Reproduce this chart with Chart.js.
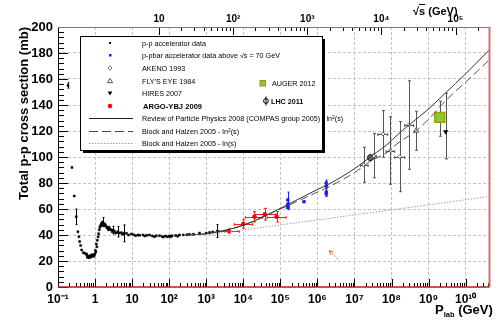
<!DOCTYPE html>
<html>
<head>
<meta charset="utf-8">
<script src="https://cdn.jsdelivr.net/npm/chart.js@4.4.1/dist/chart.umd.min.js"></script>
<style>
  body { margin: 0; background: #fff; }
  #wrap { position: relative; width: 498px; height: 322px; font-family: "Liberation Sans", Arial, sans-serif; }
  #chart { position: absolute; left: 0; top: 0; }
  .ttl { position: absolute; font-weight: bold; color: #000; white-space: nowrap; line-height: 1; }
  #leg { position: absolute; left: 0; top: 0; pointer-events: none; }
  #leg text { font-family: "Liberation Sans", Arial, sans-serif; font-size: 7.2px; fill: #000; }
</style>
</head>
<body>
<div id="wrap">
  <canvas id="chart" width="498" height="322"></canvas>
  <div class="ttl" style="left:413px; top:6px; font-size:11px;">√<span style="text-decoration:overline">s</span> (GeV)</div>
  <div class="ttl" style="left:435px; top:303px; font-size:13px;">P<span style="font-size:7.5px; position:relative; top:3px;">lab</span> (GeV)</div>
  <svg id="leg" width="498" height="322">
    <rect x="83" y="39" width="242" height="114" fill="#000"/>
    <rect x="80.5" y="36.5" width="242" height="114" fill="#fff" stroke="#000" stroke-width="1"/>
    <!-- p-p -->
    <rect x="109" y="42" width="2" height="2" fill="#000"/>
    <text x="142" y="45.5">p-p accelerator data</text>
    <!-- p-pbar -->
    <rect x="109" y="54" width="2.5" height="2.5" fill="#1a1aff"/>
    <text x="142" y="58">p-pbar accelerator data above √s = 70 GeV</text>
    <!-- AKENO -->
    <path d="M110 65.8 L112 68 L110 70.2 L108 68 Z" fill="#fff" stroke="#555" stroke-width="0.8"/>
    <text x="142" y="70.5">AKENO 1993</text>
    <!-- FLY'S EYE -->
    <path d="M110 78.3 L112.6 82.6 L107.4 82.6 Z" fill="#fff" stroke="#333" stroke-width="0.8"/>
    <text x="142" y="83.5">FLY'S EYE 1984</text>
    <!-- HIRES -->
    <path d="M107.6 91.6 L112.4 91.6 L110 95.6 Z" fill="#000"/>
    <text x="142" y="96">HIRES 2007</text>
    <!-- ARGO -->
    <circle cx="110" cy="106" r="2.3" fill="#ff0000"/>
    <text x="143" y="109" style="font-weight:bold; font-size:7.6px;">ARGO-YBJ 2009</text>
    <!-- lines -->
    <line x1="89" y1="118.5" x2="133" y2="118.5" stroke="#222" stroke-width="1"/>
    <text x="142" y="121">Review of Particle Physics 2008 (COMPAS group 2005) - ln<tspan dy="-2.5" style="font-size:5px">2</tspan><tspan dy="2.5">(s)</tspan></text>
    <line x1="89" y1="131.5" x2="133" y2="131.5" stroke="#444" stroke-width="1" stroke-dasharray="9,4"/>
    <text x="142" y="134">Block and Halzen 2005 - ln<tspan dy="-2.5" style="font-size:5px">2</tspan><tspan dy="2.5">(s)</tspan></text>
    <line x1="89" y1="143.5" x2="133" y2="143.5" stroke="#999" stroke-width="1" stroke-dasharray="1.5,1.5"/>
    <text x="142" y="146">Block and Halzen 2005 - ln(s)</text>
    <!-- AUGER -->
    <rect x="260" y="80.5" width="5.5" height="5.5" fill="#8dc63f" stroke="#9a9a00" stroke-width="1"/>
    <text x="272" y="85.8">AUGER 2012</text>
    <!-- LHC -->
    <line x1="266" y1="96.5" x2="266" y2="105.5" stroke="#000" stroke-width="1"/>
    <circle cx="266" cy="101" r="2.4" fill="none" stroke="#000" stroke-width="1"/>
    <text x="271" y="103.6" style="font-weight:bold;">LHC 2011</text>
  </svg>
</div>
<script>
// ---- axes ----
const X_MIN = 0.1, X_MAX = 4.4e10;          // P_lab (GeV)
const Y_MIN = 0, Y_MAX = 200;               // mb
const M_P = 0.938;                          // proton mass for the sqrt(s) axis
const xDecades = [0.1, 1, 10, 1e2, 1e3, 1e4, 1e5, 1e6, 1e7, 1e8, 1e9, 1e10];
const xTickLabels = ['10⁻¹', '1', '10', '10²', '10³', '10⁴', '10⁵', '10⁶', '10⁷', '10⁸', '10⁹', '10¹⁰'];
const sDecades = [10, 1e2, 1e3, 1e4, 1e5];
const sTickLabels = ['10', '10²', '10³', '10⁴', '10⁵'];
const yMajor = [0, 20, 40, 60, 80, 100, 120, 140, 160, 180, 200];
const yTickLabels = ['0', '20', '40', '60', '80', '100', '120', '140', '160', '180', '200'];

// ---- p-p accelerator data ----
const ppP = [0.186, 0.238, 0.274, 0.31, 0.345, 0.367, 0.383, 0.408, 0.434, 0.479, 0.532, 0.591, 0.6, 0.62, 0.653, 0.68, 0.7,
  0.725, 0.75, 0.78, 0.805, 0.83, 0.86, 0.889, 0.92, 0.95, 0.989, 1.02, 1.05, 1.08, 1.12, 1.15, 1.21, 1.25, 1.3, 1.35, 1.4,
  1.45, 1.5, 1.55, 1.6, 1.65, 1.7, 1.75, 1.83, 1.9, 2.04, 2.1, 2.25, 2.3, 2.4, 2.5, 2.7, 2.9, 3.07, 3.3, 3.6, 3.9, 4.18,
  4.5, 5.16, 5.5, 6.06, 7.03, 8, 9.58, 11, 12.5, 14.4, 16, 19.6, 22, 25, 29.5, 35, 40, 45, 55, 65, 70, 80, 90, 102,
  110, 120, 150, 170, 190, 240, 300, 350, 450, 660, 1000, 1230, 1500, 2000];
const ppSig = [155, 92, 70, 54, 42.5, 38.7, 35, 32, 28.5, 26.4, 26, 25.4, 24.5, 22.8, 23.3, 22.5, 23.6,
  24, 22.9, 23.5, 24.6, 23.8, 24.8, 24, 23.6, 24.4, 25.4, 28, 27, 33, 31, 36, 38.7, 41, 44, 46, 47,
  48, 49, 47.5, 50, 49.5, 48, 47, 48.5, 47.5, 46.4, 45.5, 45, 44, 46, 44.4, 44, 42.5, 43.8, 43, 41.5, 42, 42.5,
  41.5, 41.8, 40.5, 41.3, 41.3, 40, 40.8, 40.2, 39.5, 40, 39.8, 40, 39.3, 39.8, 40, 39.3, 38.6, 39.4, 39.5, 38.9, 38.4, 39.2, 38.6, 39.2,
  38.7, 39.4, 39.6, 39.1, 40, 40.1, 40.2, 40.5, 40.6, 41.5, 41.5, 42, 42.4, 43];
const ppErr = ppP.map(() => 0);
ppErr[0] = 2; ppErr[3] = 6; ppErr[40] = 3.5; ppErr[54] = 3; ppErr[58] = 4; ppErr[62] = 6.5; ppErr[96] = 5;

// ---- p-pbar accelerator data above sqrt(s) = 70 GeV ----
const pbarP = [1.59e5, 1.59e5, 1.59e5, 1.59e5, 4.3e5, 1.73e6, 1.73e6, 1.73e6, 1.73e6];
const pbarSig = [67, 63.5, 62, 61, 65.6, 80, 77.5, 73, 71.7];
const pbarErr = [6, 1.5, 1.5, 1.5, 0.7, 2.3, 2, 3, 2];

// ---- ARGO-YBJ 2009 ----
const argoP = [4030, 1.0e4, 2.0e4, 3.8e4, 7.9e4];
const argoSig = [43, 48.5, 54, 56, 54];
const argoErr = [1.5, 3.2, 4, 4.5, 4];
const argoPLo = [2260, 5700, 1.13e4, 1.98e4, 4.4e4];
const argoPHi = [7800, 1.75e4, 3.24e4, 7.7e4, 1.43e5];

// ---- AKENO 1993 ----
const akenoP = [1.79e7, 3.3e7, 5.9e7, 9.3e7, 1.66e8, 2.9e8];
const akenoSig = [94, 101, 117.7, 105, 100.3, 124.6];
const akenoErr = [13.5, 17, 18, 26, 27, 34];
const akenoPLo = [1.46e7, 2.9e7, 4.27e7, 7.1e7, 1.22e8, 2.27e8];
const akenoPHi = [2.33e7, 3.9e7, 7.9e7, 1.22e8, 2.27e8, 3.95e8];

// ---- FLY'S EYE 1984, HIRES 2007, AUGER 2012, LHC 2011 ----
const flyP = [4.6e8], flySig = [120.2], flyErr = [15];
const hiresP = [2.9e9], hiresSig = [119.5], hiresErr = [[21, 29.5]];
const augerP = [2.0e9], augerSig = [130.5], augerErr = [[14.5, 12.5]];
const lhcP = [2.7e7], lhcSig = [99.5], lhcErr = [3];

// ---- fits ----
const rppP = [300, 1e3, 1e4, 1e5, 1e6, 2e6, 1e7, 2.9e7, 1e8, 1.15e8, 1e9, 2.8e9, 1e10, 4.4e10];
const rppSig = [40, 41, 47.5, 60.5, 75, 79, 91, 100.8, 112.5, 114.4, 137, 149, 164, 182.5];
const bhP = [300, 1e3, 1e4, 1e5, 1e6, 1.73e6, 1e7, 2.6e7, 1e8, 1.15e8, 4.6e8, 1e9, 2.8e9, 1e10, 4.4e10];
const bhSig = [40, 41, 47.5, 60, 73, 76, 88, 96.5, 106, 108, 120.2, 129, 143, 157.6, 174.8];
const lnsP = [1e3, 8.3e7, 4.4e10];
const lnsSig = [40, 59, 69.6];

// arrow drawn on the plot (data coordinates)
const arrowTail = { x: 3.6e6, y: 21.3 };
const arrowHead = { x: 2.1e6, y: 27.9 };

const FONT = '"Liberation Sans", Arial, sans-serif';
const GRID = '#c4c4c4';
const pts = (xs, ys) => xs.map((x, i) => ({ x: x, y: ys[i] }));

function logTicks(decades, lo, hi) {
  const out = [];
  decades.forEach(d => {
    for (let k = 1; k <= 9; k++) {
      const v = d * k;
      if (v >= lo * 0.999 && v <= hi * 1.001) out.push({ value: v, major: k === 1 });
    }
  });
  return out;
}

// error bars through the chart's scales
const errorBars = {
  id: 'errorBars',
  beforeDatasetsDraw(chart) {
    const { ctx } = chart;
    const xs = chart.scales.x, ys = chart.scales.y;
    chart.data.datasets.forEach(ds => {
      if (!ds.yErr && !ds.xLo) return;
      ctx.save();
      ctx.strokeStyle = ds.errColor || '#000';
      ctx.lineWidth = 1;
      const cap = ds.capSize || 0;
      ds.data.forEach((pt, i) => {
        const px = Math.round(xs.getPixelForValue(pt.x)) + 0.5;
        const py = Math.round(ys.getPixelForValue(pt.y)) + 0.5;
        ctx.beginPath();
        const e = ds.yErr ? ds.yErr[i] : 0;
        const lo = Array.isArray(e) ? e[0] : e, hi = Array.isArray(e) ? e[1] : e;
        if (lo || hi) {
          const y1 = ys.getPixelForValue(pt.y - lo), y2 = ys.getPixelForValue(pt.y + hi);
          ctx.moveTo(px, y1); ctx.lineTo(px, y2);
          if (cap) {
            ctx.moveTo(px - cap, y1); ctx.lineTo(px + cap, y1);
            ctx.moveTo(px - cap, y2); ctx.lineTo(px + cap, y2);
          }
        }
        if (ds.xLo && ds.xLo[i]) {
          const x1 = xs.getPixelForValue(ds.xLo[i]), x2 = xs.getPixelForValue(ds.xHi[i]);
          ctx.moveTo(x1, py); ctx.lineTo(x2, py);
          if (cap) {
            ctx.moveTo(x1, py - cap); ctx.lineTo(x1, py + cap);
            ctx.moveTo(x2, py - cap); ctx.lineTo(x2, py + cap);
          }
        }
        ctx.stroke();
      });
      ctx.restore();
    });
  }
};

// ROOT style frame, inner ticks and the arrow
const frameTicks = {
  id: 'frameTicks',
  afterDatasetsDraw(chart) {
    const { ctx, chartArea: a, scales } = chart;
    const seg = (x1, y1, x2, y2) => { ctx.moveTo(x1, y1); ctx.lineTo(x2, y2); };
    ctx.save();
    ctx.strokeStyle = '#000';
    ctx.lineWidth = 1;
    ctx.beginPath();
    scales.y.ticks.forEach(t => {
      const py = Math.round(scales.y.getPixelForValue(t.value)) + 0.5;
      seg(a.left, py, a.left + (t.major ? 10 : 6), py);
    });
    scales.x.ticks.forEach(t => {
      const px = Math.round(scales.x.getPixelForValue(t.value)) + 0.5;
      seg(px, a.bottom, px, a.bottom - (t.major ? 8 : 4));
    });
    scales.x2.ticks.forEach(t => {
      const px = Math.round(scales.x2.getPixelForValue(t.value)) + 0.5;
      seg(px, a.top, px, a.top + (t.major ? 8 : 4));
    });
    ctx.stroke();

    // frame
    ctx.beginPath(); ctx.strokeStyle = '#000';
    seg(a.left + 0.5, a.top, a.left + 0.5, a.bottom); ctx.stroke();
    ctx.beginPath(); ctx.strokeStyle = '#777';
    seg(a.left, a.top + 0.5, a.right, a.top + 0.5); ctx.stroke();
    ctx.beginPath(); ctx.strokeStyle = '#b02828'; ctx.lineWidth = 1.5;
    seg(a.left, a.bottom, a.right, a.bottom); ctx.stroke();
    ctx.beginPath(); ctx.strokeStyle = '#d87070'; ctx.lineWidth = 2;
    seg(a.right, a.top, a.right, a.bottom); ctx.stroke();

    // arrow
    const tx = scales.x.getPixelForValue(arrowTail.x), ty = scales.y.getPixelForValue(arrowTail.y);
    const hx = scales.x.getPixelForValue(arrowHead.x), hy = scales.y.getPixelForValue(arrowHead.y);
    ctx.strokeStyle = '#f05a28'; ctx.lineWidth = 1;
    ctx.setLineDash([2, 1.5]);
    ctx.beginPath(); seg(tx, ty, hx, hy); ctx.stroke();
    ctx.setLineDash([]);
    const ang = Math.atan2(hy - ty, hx - tx);
    ctx.beginPath();
    seg(hx, hy, hx - 4 * Math.cos(ang - 0.5), hy - 4 * Math.sin(ang - 0.5));
    seg(hx, hy, hx - 4 * Math.cos(ang + 0.5), hy - 4 * Math.sin(ang + 0.5));
    ctx.stroke();
    ctx.restore();
  }
};

const ctx = document.getElementById('chart');
new Chart(ctx, {
  type: 'scatter',
  data: {
    datasets: [
      { label: 'Block and Halzen 2005 - ln(s)', data: pts(lnsP, lnsSig), showLine: true, pointRadius: 0,
        borderColor: '#a0a0a0', borderWidth: 1, borderDash: [1.5, 1.5] },
      { label: 'Review of Particle Physics 2008 (COMPAS group 2005) - ln²(s)', data: pts(rppP, rppSig), showLine: true,
        pointRadius: 0, borderColor: '#333', borderWidth: 1, cubicInterpolationMode: 'monotone' },
      { label: 'Block and Halzen 2005 - ln²(s)', data: pts(bhP, bhSig), showLine: true, pointRadius: 0,
        borderColor: '#555', borderWidth: 1, borderDash: [8, 4], cubicInterpolationMode: 'monotone' },
      { label: 'p-p accelerator data', data: pts(ppP, ppSig), yErr: ppErr, errColor: '#000', capSize: 1,
        pointStyle: 'rect', pointRadius: 1.4, backgroundColor: '#000', borderColor: '#000', borderWidth: 0.5 },
      { label: 'p-pbar accelerator data above √s = 70 GeV', data: pts(pbarP, pbarSig), yErr: pbarErr, errColor: '#1a1aff', capSize: 1,
        pointStyle: 'rect', pointRadius: 1.9, backgroundColor: '#1a1aff', borderColor: '#1a1aff', borderWidth: 0.5 },
      { label: 'ARGO-YBJ 2009', data: pts(argoP, argoSig), yErr: argoErr, xLo: argoPLo, xHi: argoPHi, errColor: '#ff1a1a', capSize: 1.5,
        pointStyle: 'circle', pointRadius: 2.3, backgroundColor: '#ff0000', borderColor: '#ff0000', borderWidth: 0 },
      { label: 'AKENO 1993', data: pts(akenoP, akenoSig), yErr: akenoErr, xLo: akenoPLo, xHi: akenoPHi, errColor: '#555', capSize: 1.5,
        pointStyle: 'rectRot', pointRadius: 2, backgroundColor: '#fff', borderColor: '#444', borderWidth: 0.8 },
      { label: "FLY'S EYE 1984", data: pts(flyP, flySig), yErr: flyErr, errColor: '#555', capSize: 1.5,
        pointStyle: 'triangle', pointRadius: 3, backgroundColor: '#fff', borderColor: '#333', borderWidth: 0.8 },
      { label: 'HIRES 2007', data: pts(hiresP, hiresSig), yErr: hiresErr, errColor: '#555', capSize: 1.5,
        pointStyle: 'triangle', rotation: 180, pointRadius: 3, backgroundColor: '#000', borderColor: '#000', borderWidth: 0 },
      { label: 'LHC 2011', data: pts(lhcP, lhcSig), yErr: lhcErr, errColor: '#000', capSize: 0,
        pointStyle: 'circle', pointRadius: 3, backgroundColor: '#6e6e6e', borderColor: '#111', borderWidth: 1 },
      { label: 'AUGER 2012', data: pts(augerP, augerSig), yErr: augerErr, errColor: '#555', capSize: 1.5,
        pointStyle: 'rect', pointRadius: 7, backgroundColor: '#8dc63f', borderColor: '#a0a000', borderWidth: 1.5 }
    ]
  },
  options: {
    responsive: false,
    animation: false,
    devicePixelRatio: 1,
    layout: { padding: { left: 0, right: 7, top: 0, bottom: 0 } },
    plugins: { legend: { display: false }, tooltip: { enabled: false } },
    scales: {
      x: {
        type: 'logarithmic', position: 'bottom', min: X_MIN, max: X_MAX,
        afterBuildTicks: s => { s.ticks = logTicks(xDecades, X_MIN, X_MAX); },
        afterFit: s => { s.height = 35; },
        grid: { color: c => (c.tick && c.tick.major ? GRID : 'rgba(0,0,0,0)'), drawTicks: false, lineWidth: 1 },
        border: { display: false, dash: [3, 2] },
        ticks: {
          autoSkip: false, maxRotation: 0, padding: 5, color: '#000',
          font: { family: FONT, size: 12, weight: 'bold' },
          callback: (v, i, ticks) => {
            if (!ticks[i].major) return '';
            const k = xDecades.findIndex(d => Math.abs(d / v - 1) < 1e-6);
            return k >= 0 ? xTickLabels[k] : '';
          }
        }
      },
      x2: {
        type: 'logarithmic', position: 'top',
        min: Math.sqrt(2 * M_P * X_MIN), max: Math.sqrt(2 * M_P * X_MAX),
        afterBuildTicks: s => { s.ticks = logTicks(sDecades, 10, s.max); },
        afterFit: s => { s.height = 27; },
        grid: { display: false, drawTicks: false },
        border: { display: false },
        ticks: {
          autoSkip: false, maxRotation: 0, padding: 2, color: '#000',
          font: { family: FONT, size: 10, weight: 'bold' },
          callback: (v, i, ticks) => {
            if (!ticks[i].major) return '';
            const k = sDecades.findIndex(d => Math.abs(d / v - 1) < 1e-6);
            return k >= 0 ? sTickLabels[k] : '';
          }
        }
      },
      y: {
        type: 'linear', position: 'left', min: Y_MIN, max: Y_MAX,
        afterBuildTicks: s => {
          const t = [];
          for (let v = Y_MIN; v <= Y_MAX; v += 4) t.push({ value: v, major: yMajor.includes(v) });
          s.ticks = t;
        },
        afterFit: s => { s.width = 58; },
        grid: { color: c => (c.tick && c.tick.major ? GRID : 'rgba(0,0,0,0)'), drawTicks: false, lineWidth: 1 },
        border: { display: false, dash: [3, 2] },
        title: {
          display: true, text: 'Total p-p cross section (mb)', align: 'end', color: '#000',
          font: { family: FONT, size: 13, weight: 'bold' }, padding: { top: 17, bottom: 0 }
        },
        ticks: {
          autoSkip: false, padding: 5, color: '#000',
          font: { family: FONT, size: 13, weight: 'bold' },
          callback: (v, i, ticks) => {
            if (!ticks[i].major) return '';
            const k = yMajor.indexOf(v);
            return k >= 0 ? yTickLabels[k] : '';
          }
        }
      }
    }
  },
  plugins: [errorBars, frameTicks]
});
</script>
</body>
</html>
